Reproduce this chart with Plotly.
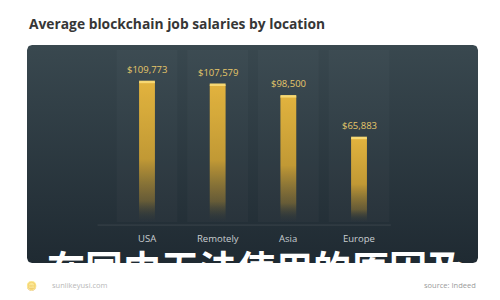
import numpy as np
import plotly.graph_objects as go

categories = ["USA", "Remotely", "Asia", "Europe"]
salaries = [109773, 107579, 98500, 65883]
value_labels = ["$109,773", "$107,579", "$98,500", "$65,883"]

title_text = "Average blockchain job salaries by location"
watermark = "在国内无法使用的原因及"
footer_left = "sunlikeyusi.com"
footer_right = "source: Indeed"

fig = go.Figure()

# ---- panel (pixel-space base axes) ----
def rounded_rect(x0, y0, x1, y1, r, n=8):
    pts = []
    corners = [(x1 - r, y0 + r, -90, 0), (x1 - r, y1 - r, 0, 90),
               (x0 + r, y1 - r, 90, 180), (x0 + r, y0 + r, 180, 270)]
    for cx, cy, a0, a1 in corners:
        for a in np.linspace(np.radians(a0), np.radians(a1), n):
            pts.append((cx + r * np.cos(a), cy + r * np.sin(a)))
    pts.append(pts[0])
    return [p[0] for p in pts], [p[1] for p in pts]

px, py = rounded_rect(27, 45, 478, 263, 5)
fig.add_trace(go.Scatter(
    x=px, y=py, mode="lines", fill="toself", line=dict(width=0),
    fillgradient=dict(type="vertical", start=45, stop=263,
                      colorscale=[[0, "#39484f"], [1, "#1f2a32"]]),
    hoverinfo="skip", showlegend=False, xaxis="x", yaxis="y"))

# ---- data layer (overlay axes) ----
half_w = 0.112
for i, v in enumerate(salaries):
    fig.add_shape(type="rect", xref="x2", yref="y2",
                  x0=i - 0.43, x1=i + 0.43, y0=0, y1=135000,
                  fillcolor="rgba(255,255,255,0.025)", line_width=0, layer="above")
    fig.add_trace(go.Scatter(
        x=[i - half_w, i + half_w, i + half_w, i - half_w, i - half_w],
        y=[0, 0, v, v, 0], mode="lines", fill="toself", line=dict(width=0),
        fillgradient=dict(type="vertical", start=v, stop=0,
                          colorscale=[[0, "rgba(226,178,58,1)"],
                                      [0.55, "rgba(200,156,48,0.95)"],
                                      [0.85, "rgba(150,120,45,0.55)"],
                                      [1, "rgba(60,60,50,0.0)"]]),
        hoverinfo="skip", showlegend=False, xaxis="x2", yaxis="y2"))
    fig.add_trace(go.Scatter(
        x=[i - half_w, i + half_w], y=[v, v], mode="lines",
        line=dict(color="#f7d870", width=2.5),
        hoverinfo="skip", showlegend=False, xaxis="x2", yaxis="y2"))

annotations = []
for i, (v, lab) in enumerate(zip(salaries, value_labels)):
    annotations.append(dict(
        text=lab, x=i, y=v, xref="x2", yref="y2", xanchor="center", yanchor="bottom",
        yshift=4, showarrow=False,
        font=dict(family="Open Sans", size=9.5, color="#e6c76a")))
for i, cat in enumerate(categories):
    annotations.append(dict(
        text=cat, x=i, y=-12800, xref="x2", yref="y2", xanchor="center", yanchor="middle",
        showarrow=False, font=dict(family="Open Sans", size=9.5, color="#c9ced2")))

fig.add_shape(type="line", xref="x2", yref="y2", x0=-0.7, x1=3.45, y0=-2400, y1=-2400,
              line=dict(color="rgba(255,255,255,0.10)", width=1))

k = 0.001276  # px per $
y_hi = 222 / k
y_lo = y_hi - 300 / k
x_lo = -147 / 70.67
x_hi = x_lo + 500 / 70.67

annotations += [
    dict(text="<b>" + title_text + "</b>", xref="paper", yref="paper",
         x=27 / 500, y=1 - 24 / 300, xanchor="left", yanchor="middle",
         showarrow=False, font=dict(family="Open Sans", size=13.8, color="#363636")),
    dict(text="<b>" + watermark + "</b>", xref="paper", yref="paper",
         x=256 / 500, y=1 - 266 / 300, xanchor="center", yanchor="middle",
         showarrow=False,
         font=dict(family="Noto Sans CJK SC", size=38, color="white")),
    dict(text=footer_left, xref="paper", yref="paper",
         x=50 / 500, y=1 - 285 / 300, xanchor="left", yanchor="middle",
         showarrow=False, font=dict(family="Open Sans", size=7.5, color="#b8b8b8")),
    dict(text=footer_right, xref="paper", yref="paper",
         x=478 / 500, y=1 - 285 / 300, xanchor="right", yanchor="middle",
         showarrow=False, font=dict(family="Open Sans", size=7.5, color="#9a9a9a")),
    dict(text="🪙", xref="paper", yref="paper",
         x=31 / 500, y=1 - 285 / 300, xanchor="center", yanchor="middle",
         showarrow=False, font=dict(size=9, color="#d8c9a0"), opacity=0.6),
]

fig.update_layout(
    width=500, height=300,
    margin=dict(l=0, r=0, t=0, b=0),
    paper_bgcolor="white", plot_bgcolor="white",
    xaxis=dict(range=[0, 500], visible=False, fixedrange=True),
    yaxis=dict(range=[300, 0], visible=False, fixedrange=True),
    xaxis2=dict(range=[x_lo, x_hi], visible=False, overlaying="x", fixedrange=True),
    yaxis2=dict(range=[y_lo, y_hi], visible=False, overlaying="y", fixedrange=True),
    annotations=annotations,
)

fig.write_html("out.html")
